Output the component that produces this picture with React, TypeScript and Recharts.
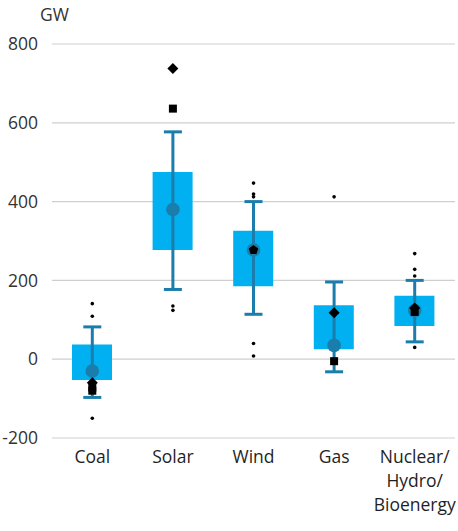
import React from "react";
import { ComposedChart, Bar, Scatter, ErrorBar, XAxis, YAxis, CartesianGrid } from "recharts";

const categories = ["Coal", "Solar", "Wind", "Gas", "Nuclear/\nHydro/\nBioenergy"];
const boxLow = [-53, 277, 185, 25, 84];
const boxHigh = [37, 475, 326, 137, 161];
const whiskerLow = [-97, 177, 114, -32, 44];
const whiskerHigh = [82, 577, 400, 196, 200];
const means = [-30, 380, 277, 35, 124];
const diamonds = [-60, 738, null, 118, 130];
const squares = [-72, 636, null, -5, 120];
const extraSquares = [-80, null, null, null, null];
const pentagons = [null, null, 277, null, null];
const outliers = [
  [141, 109, -150],
  [135, 124],
  [447, 419, 412, 40, 8],
  [412],
  [268, 228, 211, 30],
];
const yTicks = [-200, 0, 200, 400, 600, 800];

const BOX = "#00b0f0";
const WHISKER = "#1b7dab";
const FONT = "'Open Sans', sans-serif";

const data = categories.map((name, i) => {
  const row: any = {
    name,
    box: [boxLow[i], boxHigh[i]],
    mean: means[i],
    whisker: [means[i] - whiskerLow[i], whiskerHigh[i] - means[i]],
    diamond: diamonds[i],
    square: squares[i],
    square2: extraSquares[i],
    pentagon: pentagons[i],
  };
  outliers[i].forEach((v, j) => {
    row["dot" + j] = v;
  });
  return row;
});

const dotKeys = ["dot0", "dot1", "dot2", "dot3", "dot4"];

function marker(kind: string, key: string) {
  return (props: any) => {
    const { cx, cy, payload } = props;
    if (payload == null || payload[key] == null || cx == null || cy == null || isNaN(cy)) return <g />;
    if (kind === "dot") return <circle cx={cx} cy={cy} r={1.8} fill="#000" />;
    if (kind === "mean") return <circle cx={cx} cy={cy} r={6.8} fill={WHISKER} />;
    if (kind === "square") return <rect x={cx - 4} y={cy - 4} width={8} height={8} fill="#000" />;
    if (kind === "diamond")
      return <polygon points={`${cx},${cy - 5.5} ${cx + 5.5},${cy} ${cx},${cy + 5.5} ${cx - 5.5},${cy}`} fill="#000" />;
    const pts = [0, 1, 2, 3, 4]
      .map((k) => {
        const a = -Math.PI / 2 + (k * 2 * Math.PI) / 5;
        return `${cx + 5 * Math.cos(a)},${cy + 5 * Math.sin(a)}`;
      })
      .join(" ");
    return <polygon points={pts} fill="#000" />;
  };
}

function CategoryTick({ x, y, payload }: any) {
  const lines = String(payload.value).split("\n");
  return (
    <text x={x} y={y} textAnchor="middle" fill="#1f1f1f" fontSize={17.5} fontFamily={FONT}>
      {lines.map((l, i) => (
        <tspan key={i} x={x} dy={i === 0 ? 17 : 24}>
          {l}
        </tspan>
      ))}
    </text>
  );
}

export default function App() {
  return (
    <div style={{ position: "absolute", left: 0, top: 0, width: 458, height: 531, background: "#fff" }}>
      <div
        style={{
          position: "absolute",
          left: 40,
          top: 2,
          fontFamily: FONT,
          fontSize: 17.5,
          color: "#333",
        }}
      >
        GW
      </div>
      <ComposedChart
        width={458}
        height={531}
        data={data}
        margin={{ top: 44, right: 3, bottom: 0, left: 0 }}
      >
        <CartesianGrid vertical={false} stroke="#cfcfcf" strokeWidth={1.2} />
        <XAxis
          dataKey="name"
          axisLine={false}
          tickLine={false}
          height={93}
          interval={0}
          tick={<CategoryTick />}
        />
        <YAxis
          type="number"
          domain={[-200, 800]}
          ticks={yTicks}
          width={52}
          axisLine={false}
          tickLine={false}
          tickMargin={8}
          tick={{ fill: "#333", fontSize: 17.5, fontFamily: FONT }}
        />
        <Bar dataKey="box" fill={BOX} barSize={40} isAnimationActive={false} />
        <Scatter dataKey="mean" shape={marker("mean", "mean")} isAnimationActive={false}>
          <ErrorBar dataKey="whisker" direction="y" width={9} stroke={WHISKER} strokeWidth={3} />
        </Scatter>
        <Scatter dataKey="square" shape={marker("square", "square")} isAnimationActive={false} />
        <Scatter dataKey="square2" shape={marker("square", "square2")} isAnimationActive={false} />
        <Scatter dataKey="diamond" shape={marker("diamond", "diamond")} isAnimationActive={false} />
        <Scatter dataKey="pentagon" shape={marker("pentagon", "pentagon")} isAnimationActive={false} />
        {dotKeys.map((k) => (
          <Scatter key={k} dataKey={k} shape={marker("dot", k)} isAnimationActive={false} />
        ))}
      </ComposedChart>
    </div>
  );
}
